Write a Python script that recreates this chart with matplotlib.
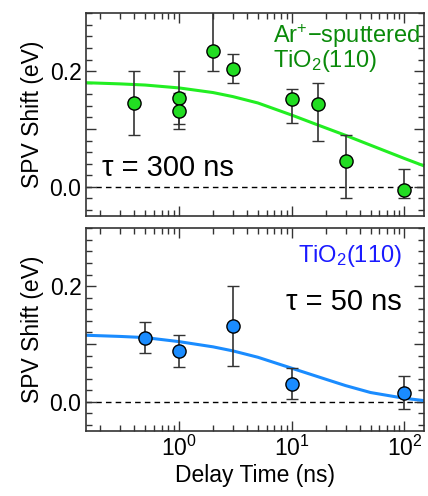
import matplotlib.pyplot as plt
from matplotlib.ticker import MultipleLocator, FixedLocator, FixedFormatter, LogLocator, NullFormatter

plt.rcParams['font.family'] = ['Liberation Sans', 'DejaVu Sans']
plt.rcParams['mathtext.fontset'] = 'custom'
plt.rcParams['mathtext.rm'] = 'Liberation Sans'
plt.rcParams['mathtext.it'] = 'Liberation Sans:italic'
plt.rcParams['mathtext.default'] = 'regular'

# Ar+-sputtered TiO2(110) (top panel)
t_sp = [0.4, 1.0, 1.0, 2.0, 3.0, 10.0, 17.0, 30.0, 100.0]
spv_sp = [0.145, 0.153, 0.131, 0.235, 0.203, 0.151, 0.144, 0.045, -0.005]
err_lo_sp = [0.055, 0.045, 0.031, 0.035, 0.024, 0.040, 0.064, 0.065, 0.015]
err_hi_sp = [0.055, 0.047, 0.031, 0.080, 0.027, 0.019, 0.036, 0.044, 0.035]
fit_t_sp = [0.15, 0.3, 0.5, 1, 2, 3, 5, 10, 17, 30, 50, 100, 150]
fit_sp = [0.180, 0.178, 0.176, 0.171, 0.163, 0.156, 0.145, 0.124, 0.107, 0.089, 0.072, 0.049, 0.036]

# TiO2(110) (bottom panel)
t_cl = [0.5, 1.0, 3.0, 10.0, 100.0]
spv_cl = [0.111, 0.088, 0.131, 0.031, 0.016]
err_cl = [0.027, 0.028, 0.069, 0.027, 0.028]
fit_t_cl = [0.15, 0.3, 0.5, 1, 2, 3, 5, 10, 20, 30, 50, 100, 150]
fit_cl = [0.115, 0.113, 0.111, 0.104, 0.095, 0.088, 0.077, 0.058, 0.039, 0.028, 0.016, 0.006, 0.002]

edge = '#333333'
fig = plt.figure(figsize=(4.28, 4.96), dpi=100)
ax1 = fig.add_axes([0.2016, 0.5651, 0.7897, 0.408])
ax2 = fig.add_axes([0.2016, 0.1317, 0.7897, 0.408])


def style(ax):
    ax.set_xscale('log')
    ax.set_xlim(0.15, 150)
    ax.set_ylim(-0.05, 0.30)
    ax.axhline(0, color='black', lw=1, ls=(0, (4, 3)), zorder=1)
    ax.yaxis.set_major_locator(FixedLocator([0.0, 0.1, 0.2]))
    ax.yaxis.set_major_formatter(FixedFormatter(['0.0', '', '0.2']))
    ax.yaxis.set_minor_locator(MultipleLocator(0.02))
    ax.xaxis.set_major_locator(LogLocator(base=10, numticks=10))
    ax.xaxis.set_minor_locator(LogLocator(base=10, subs=range(2, 10), numticks=10))
    ax.xaxis.set_minor_formatter(NullFormatter())
    ax.tick_params(which='both', direction='in', top=True, right=True, color=edge,
                   labelsize=16.5, width=1)
    ax.tick_params(which='major', length=7)
    ax.tick_params(which='minor', length=4)
    for s in ax.spines.values():
        s.set_color(edge)
        s.set_linewidth(1.2)
    ax.set_ylabel('SPV Shift (eV)', fontsize=16.5, labelpad=4)


style(ax1)
style(ax2)
ax1.tick_params(axis='x', labelbottom=False)

ax1.plot(fit_t_sp, fit_sp, color='#22ee22', lw=2.2, zorder=2)
ax1.errorbar(t_sp, spv_sp, yerr=[err_lo_sp, err_hi_sp], fmt='o', ms=9.5,
             mfc='#22dd22', mec='black', mew=1, ecolor=edge, elinewidth=1.2,
             capsize=4.5, capthick=1.2, zorder=3)
ax1.text(0.552, 0.852, 'Ar$^{+}$\u2212sputtered', transform=ax1.transAxes,
         color='#0a8a0a', fontsize=17, ha='left', va='baseline')
ax1.text(0.552, 0.736, 'TiO$_2$(110)', transform=ax1.transAxes,
         color='#0a8a0a', fontsize=17, ha='left', va='baseline')
ax1.text(0.046, 0.196, '\u03c4 = 300 ns', transform=ax1.transAxes, fontsize=21,
         ha='left', va='baseline')

ax2.plot(fit_t_cl, fit_cl, color='#1a8cff', lw=2.2, zorder=2)
ax2.errorbar(t_cl, spv_cl, yerr=err_cl, fmt='o', ms=9.5,
             mfc='#1a8cff', mec='black', mew=1, ecolor=edge, elinewidth=1.2,
             capsize=4.5, capthick=1.2, zorder=3)
ax2.text(0.933, 0.835, 'TiO$_2$(110)', transform=ax2.transAxes, color='#1a1aff',
         fontsize=17, ha='right', va='baseline')
ax2.text(0.933, 0.596, '\u03c4 = 50 ns', transform=ax2.transAxes, fontsize=21,
         ha='right', va='baseline')
ax2.set_xlabel('Delay Time (ns)', fontsize=16.5, labelpad=2)

fig.savefig('out.png', dpi=100)
